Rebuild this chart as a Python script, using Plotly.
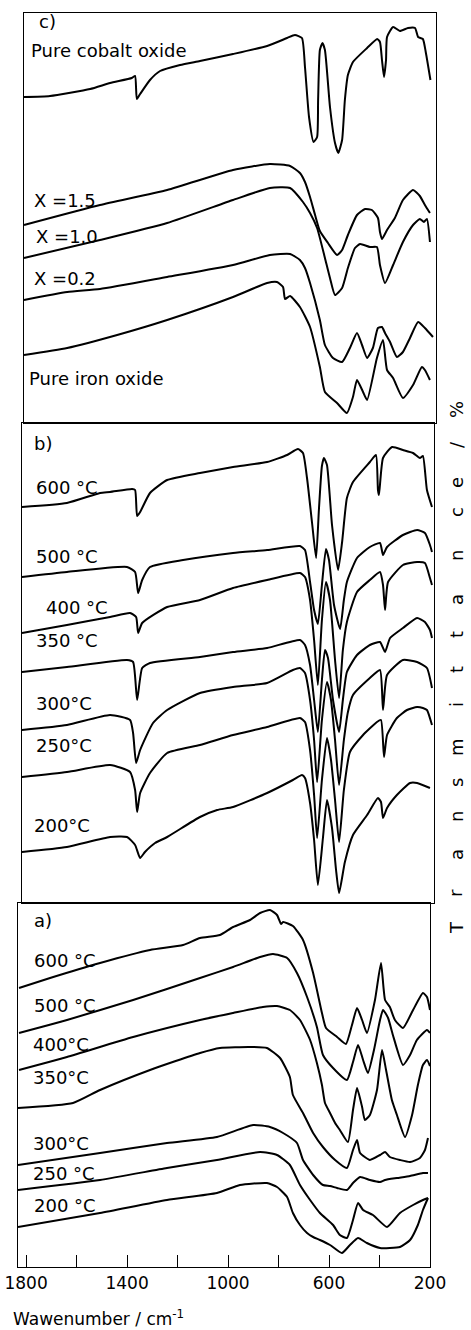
import plotly.graph_objects as go

# ---------------- data: wavenumber (cm-1) and transmittance (arbitrary offset units) ----------------
# panel c
c_cobalt_wn = [1830,1727,1568,1489,1403,1390,1383,1370,1331,1291,1212,1133,1002,867,788,757,729,717,701,683,669,665,658,648,638,618,598,585,570,559,547,527,471,431,420,412,404,396,392,368,341,309,281,269,250,238,220]
c_cobalt_t = [326,327,334,340,345,347,324,329,343,352,358,362,369,377,385,388,385,356,306,281,286,323,373,380,373,316,280,270,283,323,348,361,375,384,381,363,346,363,386,396,392,395,395,386,384,370,343]
c_x15_wn = [1830,1529,1263,1002,856,776,737,717,697,677,658,626,590,570,547,511,479,452,428,420,412,392,361,329,289,262,242,222]
c_x15_t = [198,218,233,253,259,257,250,241,226,208,192,180,168,173,188,208,214,213,205,191,184,193,205,223,233,227,218,210]
c_x10_wn = [1830,1529,1263,1002,856,776,725,697,669,638,618,598,570,547,519,499,460,432,420,400,368,329,289,262,246,234,222]
c_x10_t = [165,183,200,223,235,235,221,210,195,165,145,128,135,155,175,179,176,176,158,140,158,181,198,204,201,204,181]
c_x02_wn = [1830,1659,1529,1263,1002,856,776,737,717,697,658,638,606,570,539,511,491,471,448,428,412,400,380,353,329,301,269,242,210]
c_x02_t = [123,131,134,146,158,168,169,163,155,140,103,78,65,61,75,90,78,65,75,95,96,90,81,66,71,85,101,95,86]
c_iron_wn = [1830,1659,1461,1263,1002,867,828,804,796,776,737,697,658,638,590,551,527,511,487,471,432,408,392,368,329,289,254,242,222]
c_iron_t = [68,75,88,103,126,140,141,136,124,127,116,96,56,31,20,10,26,43,31,23,65,83,53,45,25,38,56,53,43]

# panel b
b600_wn = [1830,1652,1521,1481,1394,1382,1374,1362,1323,1255,1125,994,859,780,737,717,701,681,665,654,642,634,622,602,578,562,543,519,452,428,420,416,400,364,321,281,254,242,226,206]
b600_t = [396,400,410,411,414,413,387,391,410,423,430,436,441,448,454,450,425,380,345,393,437,445,438,378,333,361,405,421,441,448,413,408,445,456,453,450,445,447,413,396]
b500_wn = [1830,1652,1414,1382,1370,1354,1323,1192,994,859,729,709,689,673,658,642,626,614,594,570,555,543,503,452,412,400,384,321,265,234,214,206]
b500_t = [326,331,336,331,310,323,336,343,350,353,357,353,321,293,279,318,354,343,298,274,303,321,345,356,360,348,356,368,373,370,358,351]
b400_wn = [1830,1652,1481,1402,1378,1370,1354,1255,1125,994,859,729,709,689,673,658,642,626,610,590,574,559,543,503,452,412,400,392,380,321,265,234,214,206]
b400_t = [270,278,286,290,286,270,280,296,303,315,323,330,326,303,263,218,283,321,303,243,205,253,281,311,323,331,318,293,321,338,341,340,325,318]
b350_wn = [1830,1652,1414,1390,1374,1354,1323,1125,994,859,729,709,689,673,658,642,630,618,598,574,559,543,503,452,412,392,372,321,265,234,214,206]
b350_t = [231,236,243,241,203,235,240,246,251,255,263,258,238,203,171,223,253,245,203,171,203,231,248,258,261,251,265,275,285,281,273,265]
b300_wn = [1830,1652,1481,1402,1390,1378,1362,1311,1255,1125,994,859,757,729,709,689,673,661,642,622,606,590,574,555,539,519,452,412,400,384,321,265,226,206]
b300_t = [173,178,188,183,170,140,153,180,193,210,216,220,233,235,230,203,163,121,183,221,203,163,118,163,191,208,225,233,193,228,243,241,235,215]
b250_wn = [1830,1652,1481,1402,1382,1374,1362,1323,1255,1125,994,859,729,709,689,673,661,642,622,606,590,574,555,531,479,424,408,396,384,345,305,265,242,226,206]
b250_t = [126,131,138,131,113,91,110,130,150,158,168,176,185,181,153,108,65,123,165,143,103,61,113,151,168,181,183,146,168,185,193,196,195,193,178]
b200_wn = [1830,1652,1481,1414,1382,1362,1343,1303,1255,1125,1057,994,859,757,721,709,689,673,658,638,622,602,586,574,551,519,463,420,408,400,384,345,293,265,214]
b200_t = [51,56,66,66,58,45,51,60,66,86,93,96,110,123,128,125,100,63,18,65,103,75,33,10,41,68,88,105,101,85,95,108,120,120,115]

# panel a
a600_wn = [1828,1705,1507,1309,1178,1111,1032,980,913,873,834,806,790,782,743,703,663,628,612,568,533,509,489,469,450,418,394,378,359,339,307,267,228,212,200]
a600_t = [279,289,304,317,322,329,332,340,347,354,357,352,343,345,341,327,294,254,239,230,223,242,259,247,234,267,304,267,260,247,239,257,274,270,257]
a500_wn = [1828,1638,1376,1111,980,873,822,766,727,687,648,624,584,529,505,485,465,446,422,398,386,366,347,307,279,252,212,200]
a500_t = [234,247,267,289,300,310,313,309,294,270,240,212,199,187,205,222,207,194,217,247,257,249,232,202,212,227,237,234]
a400_wn = [1828,1638,1376,1111,980,862,806,755,715,675,648,628,616,596,576,557,525,505,489,469,458,438,410,390,374,351,331,299,271,248,228,212,200]
a400_t = [197,210,230,247,254,260,261,257,247,227,204,182,164,154,144,137,125,157,179,160,147,152,177,217,197,167,152,130,152,182,202,207,201]
a350_wn = [1832,1614,1507,1309,1111,1032,913,846,794,755,743,703,663,624,576,529,505,489,477,438,398,378,359,319,279,240,220,208]
a350_t = [159,164,177,197,214,219,220,219,209,190,172,154,134,120,107,99,117,127,114,107,112,115,110,107,105,109,117,129]
a300_wn = [1832,1507,1242,1044,901,834,782,727,703,663,624,596,568,529,505,477,438,398,378,331,279,228,208]
a300_t = [102,114,124,130,142,140,134,124,107,92,82,81,79,77,84,90,87,85,87,89,91,94,94]
a250_wn = [1832,1507,1242,1044,873,806,755,715,675,636,584,557,529,505,485,465,426,370,319,267,228,208]
a250_t = [77,87,99,107,115,112,102,82,67,54,42,32,29,47,64,57,52,40,54,62,67,69]
a200_wn = [1832,1507,1242,1044,953,846,806,766,743,715,687,663,636,596,549,517,485,450,398,359,319,279,248,228,208]
a200_t = [40,54,67,74,82,84,80,70,54,42,34,30,27,22,14,22,29,24,19,19,20,27,42,57,69]

x_tickvals = [1800, 1400, 1000, 600, 200]
x_ticktext = ["1800", "1400", "1000", "600", "200"]
x_minor_tickvals = [1600, 1200, 800, 400]

panel_c_labels = ["c)", "Pure cobalt oxide", "X =1.5", "X =1.0", "X =0.2", "Pure iron oxide"]
panel_b_labels = ["b)", "600 °C", "500 °C", "400 °C", "350 °C", "300°C", "250°C", "200°C"]
panel_a_labels = ["a)", "600 °C", "500 °C", "400°C", "350°C", "300°C", "250 °C", "200 °C"]
y_title_letters = ["T", "r", "a", "n", "s", "m", "i", "t", "t", "a", "n", "c", "e", "/", "%"]

# ---------------- layout geometry (pixels) ----------------
W, H = 471, 1330
FONT = "DejaVu Sans"

def px_x(x):
    return x / W

def px_y(y):
    return 1 - y / H

panels = {
    # name: (xaxis id, yaxis id, left px, top px, bottom px)
    "c": ("x3", "y3", 23.5, 13, 423),
    "b": ("x2", "y2", 21.5, 423, 903),
    "a": ("x", "y", 18, 903, 1267),
}
FRAME_W = 412

fig = go.Figure()

series = {
    "c": [(c_cobalt_wn, c_cobalt_t), (c_x15_wn, c_x15_t), (c_x10_wn, c_x10_t), (c_x02_wn, c_x02_t), (c_iron_wn, c_iron_t)],
    "b": [(b600_wn, b600_t), (b500_wn, b500_t), (b400_wn, b400_t), (b350_wn, b350_t), (b300_wn, b300_t), (b250_wn, b250_t), (b200_wn, b200_t)],
    "a": [(a600_wn, a600_t), (a500_wn, a500_t), (a400_wn, a400_t), (a350_wn, a350_t), (a300_wn, a300_t), (a250_wn, a250_t), (a200_wn, a200_t)],
}

for name, curves in series.items():
    xa, ya = panels[name][0], panels[name][1]
    for wn, t in curves:
        assert len(wn) == len(t), (name, len(wn), len(t))
        fig.add_trace(go.Scatter(x=wn, y=t, mode="lines", xaxis=xa, yaxis=ya,
                                 line=dict(color="black", width=2, shape="spline", smoothing=0.5),
                                 showlegend=False, hoverinfo="skip"))

layout = dict(width=W, height=H, margin=dict(l=0, r=0, t=0, b=0, pad=0, autoexpand=False),
              paper_bgcolor="white", plot_bgcolor="white", showlegend=False,
              font=dict(family=FONT, color="black"))

for name, (xa, ya, left, top, bottom) in panels.items():
    xkey = "xaxis" if xa == "x" else "xaxis" + xa[1:]
    ykey = "yaxis" if ya == "y" else "yaxis" + ya[1:]
    xd = dict(domain=[px_x(left), px_x(left + FRAME_W)], range=[1832, 200], anchor=ya,
              showgrid=False, zeroline=False, showline=True, mirror=True,
              linecolor="black", linewidth=1.3, automargin=False)
    if name == "a":
        xd.update(ticks="inside", ticklen=12, tickwidth=1.3, tickcolor="black",
                  tickmode="array", tickvals=x_tickvals, ticktext=x_ticktext,
                  tickfont=dict(family=FONT, size=17, color="black"),
                  minor=dict(tickmode="array", tickvals=x_minor_tickvals, ticks="inside",
                             ticklen=12, tickwidth=1.3, tickcolor="black", showgrid=False))
    else:
        xd.update(ticks="", showticklabels=False)
    height = bottom - top
    yd = dict(domain=[px_y(bottom), px_y(top)], range=[0, height], anchor=xa,
              showgrid=False, zeroline=False, showline=True, mirror=True,
              linecolor="black", linewidth=1.3, ticks="", showticklabels=False, automargin=False)
    layout[xkey] = xd
    layout[ykey] = yd

annotations = []

def add_label(text, x, y, size=18):
    annotations.append(dict(text=text, x=px_x(x), y=px_y(y), xref="paper", yref="paper",
                            xanchor="left", yanchor="middle", showarrow=False,
                            font=dict(family=FONT, size=size, color="black")))

c_pos = [(37, 22), (29, 50), (32, 200), (34, 237), (32, 278), (27, 379)]
b_pos = [(32, 443), (34, 487), (34, 557), (44, 607), (34, 640), (34, 704), (34, 745), (32, 825)]
a_pos = [(32, 920), (32, 960), (32, 1005), (31, 1044), (31, 1077), (31, 1143), (31, 1173), (32, 1205)]
for labels, pos in ((panel_c_labels, c_pos), (panel_b_labels, b_pos), (panel_a_labels, a_pos)):
    for text, (x, y) in zip(labels, pos):
        add_label(text, x, y)

# x-axis title
add_label("Wawenumber / cm<sup>-1</sup>", 11, 1318, size=17)

# y title, letter-spaced, reading bottom to top
letter_y = [928, 893, 855, 817, 783, 747, 705, 670, 635, 600, 556, 512, 483, 445, 410]
for ch, y in zip(y_title_letters, letter_y):
    annotations.append(dict(text=ch, x=px_x(456), y=px_y(y), xref="paper", yref="paper",
                            xanchor="center", yanchor="middle", showarrow=False, textangle=-90,
                            font=dict(family=FONT, size=18, color="black")))

layout["annotations"] = annotations
fig.update_layout(**layout)
fig.write_html("out.html")
